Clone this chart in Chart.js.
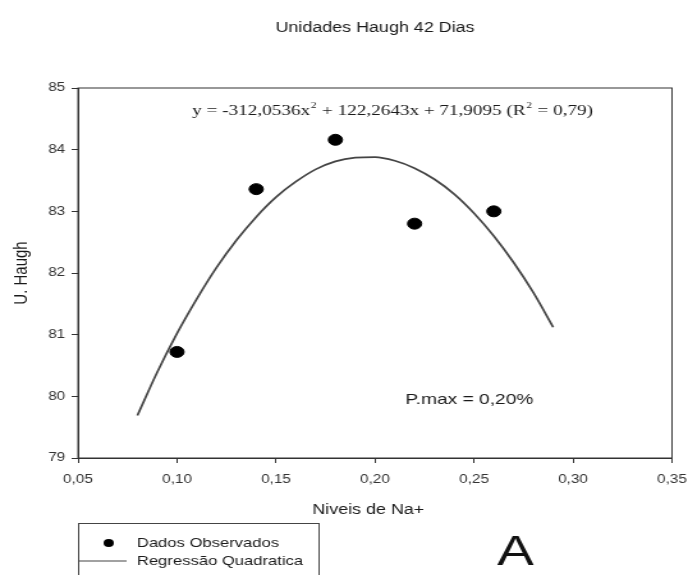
<!DOCTYPE html>
<html>
<head>
<meta charset="utf-8">
<script src="https://cdn.jsdelivr.net/npm/chart.js@4.4.1/dist/chart.umd.min.js"></script>
<style>
  html, body { margin: 0; padding: 0; background: #fff; overflow: hidden; }
  #wrap { width: 538px; height: 575px; transform: scaleX(1.2788); transform-origin: 0 0; }
  #c { width: 538px; height: 575px; display: block; }
</style>
</head>
<body>
<div id="wrap"><canvas id="c" width="538" height="575"></canvas></div>
<script>
// ---- Data ----
const obsX = [0.10, 0.14, 0.18, 0.22, 0.26];
const obsY = [80.72, 83.36, 84.16, 82.80, 83.00];

// Regression curve values (y = -312,0536x² + 122,2643x + 71,9095) read at these levels
const curveX = [0.08, 0.09, 0.10, 0.11, 0.12, 0.13, 0.14, 0.15, 0.16, 0.17, 0.18,
                0.19, 0.20, 0.21, 0.22, 0.23, 0.24, 0.25, 0.26, 0.27, 0.28, 0.29];
const curveY = [79.69, 80.39, 81.02, 81.58, 82.09, 82.53, 82.91, 83.23, 83.48, 83.68, 83.81,
                83.87, 83.88, 83.82, 83.70, 83.52, 83.28, 82.97, 82.60, 82.17, 81.68, 81.12];

const xTickValues = [0.05, 0.10, 0.15, 0.20, 0.25, 0.30, 0.35];
const yTickValues = [79, 80, 81, 82, 83, 84, 85];

const titleText = 'Unidades Haugh 42 Dias';
const xTitle = 'Niveis de Na+';
const yTitle = 'U. Haugh';
const legendLabels = ['Dados Observados', 'Regressão Quadratica'];
const pmaxText = 'P.max = 0,20%';
const panelLetter = 'A';
// equation pieces: [text, isSuperscript]
const equationParts = [['y = -312,0536x', false], ['2', true], [' + 122,2643x + 71,9095 (R', false], ['2', true], [' = 0,79)', false]];

const SANS = "'Liberation Sans', Arial, sans-serif";
const SERIF = "'Liberation Serif', 'Times New Roman', serif";

const fmt = v => Number(v).toFixed(2).replace('.', ',');

const decorPlugin = {
  id: 'decor',
  afterDraw(chart) {
    const ctx = chart.ctx;
    const ca = chart.chartArea;
    ctx.save();
    // frame (top & right sides)
    ctx.strokeStyle = '#333';
    ctx.lineWidth = 1;
    ctx.strokeRect(ca.left, ca.top, ca.right - ca.left, ca.bottom - ca.top);

    ctx.fillStyle = '#1a1a1a';
    ctx.textBaseline = 'middle';

    // title
    ctx.font = '14px ' + SANS;
    ctx.textAlign = 'center';
    ctx.fillText(titleText, (ca.left + ca.right) / 2, 28);

    // equation
    const eqFont = '15px ' + SERIF, supFont = '9px ' + SERIF;
    let total = 0;
    equationParts.forEach(([t, sup]) => { ctx.font = sup ? supFont : eqFont; total += ctx.measureText(t).width + (sup ? 1 : 0); });
    let ex = ca.left + 246 - total / 2;
    const ey = 111;
    ctx.textAlign = 'left';
    equationParts.forEach(([t, sup]) => {
      ctx.font = sup ? supFont : eqFont;
      ctx.fillText(t, ex + (sup ? 0.5 : 0), sup ? ey - 5 : ey);
      ex += ctx.measureText(t).width + (sup ? 1 : 0);
    });

    // P.max
    ctx.font = '15px ' + SANS;
    ctx.textAlign = 'center';
    ctx.fillText(pmaxText, ca.left + 306, 400);

    // axis titles
    ctx.font = '14px ' + SANS;
    ctx.fillText(xTitle, 288, 510);
    ctx.save();
    ctx.translate(17, (ca.top + ca.bottom) / 2);
    ctx.rotate(-Math.PI / 2);
    ctx.font = '15px ' + SANS;
    ctx.fillText(yTitle, 0, 0);
    ctx.restore();

    // legend box
    ctx.strokeStyle = '#444';
    ctx.lineWidth = 1;
    ctx.strokeRect(61.5, 523.5, 188, 70);
    ctx.fillStyle = '#000';
    ctx.beginPath();
    ctx.arc(85, 543, 4, 0, Math.PI * 2);
    ctx.fill();
    ctx.strokeStyle = '#444';
    ctx.lineWidth = 1.2;
    ctx.beginPath();
    ctx.moveTo(62, 561);
    ctx.lineTo(99, 561);
    ctx.stroke();
    ctx.fillStyle = '#1a1a1a';
    ctx.font = '13px ' + SANS;
    ctx.textAlign = 'left';
    ctx.fillText(legendLabels[0], 107, 543);
    ctx.fillText(legendLabels[1], 107, 561);

    // panel letter
    ctx.font = '43px ' + SANS;
    ctx.textAlign = 'center';
    ctx.fillStyle = '#111';
    ctx.fillText(panelLetter, 403, 553);
    ctx.restore();
  }
};

new Chart(document.getElementById('c'), {
  type: 'scatter',
  data: {
    datasets: [
      {
        label: legendLabels[0],
        data: obsX.map((x, i) => ({ x, y: obsY[i] })),
        pointRadius: 5.5,
        pointBackgroundColor: '#000',
        pointBorderColor: '#000',
        showLine: false,
        order: 0
      },
      {
        label: legendLabels[1],
        data: curveX.map((x, i) => ({ x, y: curveY[i] })),
        showLine: true,
        pointRadius: 0,
        borderColor: '#444',
        borderWidth: 1.7,
        cubicInterpolationMode: 'monotone',
        fill: false,
        order: 1
      }
    ]
  },
  options: {
    responsive: false,
    animation: false,
    events: [],
    layout: { padding: { top: 88, right: 12.5, left: 0, bottom: 0 } },
    plugins: { legend: { display: false }, tooltip: { enabled: false }, title: { display: false } },
    scales: {
      x: {
        type: 'linear',
        min: xTickValues[0],
        max: xTickValues[xTickValues.length - 1],
        afterBuildTicks: s => { s.ticks = xTickValues.map(v => ({ value: v })); },
        afterFit: s => { s.height = 117; s.paddingLeft = 0; s.paddingRight = 0; },
        ticks: { callback: v => fmt(v), font: { family: SANS, size: 12 }, color: '#333', padding: 9, maxRotation: 0, autoSkip: false },
        grid: { display: true, drawOnChartArea: false, drawTicks: true, tickLength: 5, color: '#333' },
        border: { display: true, color: '#333', width: 1 }
      },
      y: {
        type: 'linear',
        min: yTickValues[0],
        max: yTickValues[yTickValues.length - 1],
        afterBuildTicks: s => { s.ticks = yTickValues.map(v => ({ value: v })); },
        afterFit: s => { s.width = 61; s.paddingTop = 0; s.paddingBottom = 0; },
        ticks: { font: { family: SANS, size: 12 }, color: '#333', padding: 5 },
        grid: { display: true, drawOnChartArea: false, drawTicks: true, tickLength: 5, color: '#333' },
        border: { display: true, color: '#333', width: 1 }
      }
    }
  },
  plugins: [decorPlugin]
});
</script>
</body>
</html>
